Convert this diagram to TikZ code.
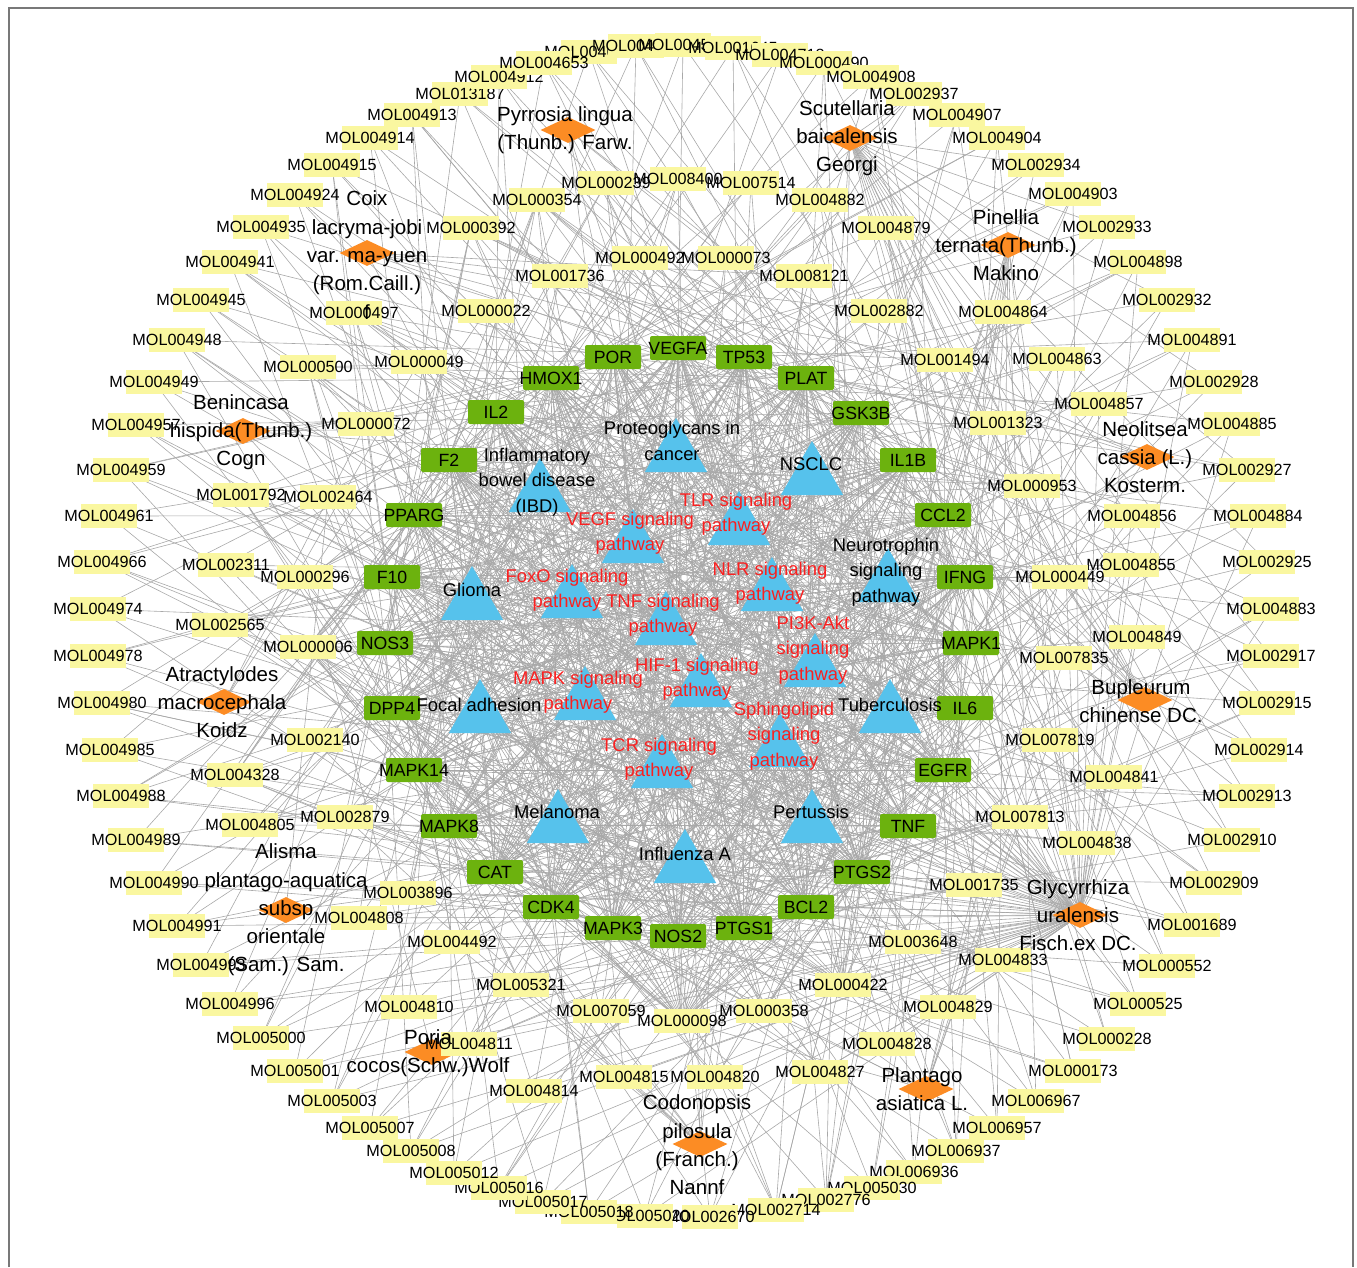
\documentclass[tikz,border=0pt]{standalone}
\usepackage{fontspec}
\setmainfont{Liberation Sans}
\usetikzlibrary{shapes.geometric,backgrounds}
\definecolor{molyellow}{RGB}{250,247,160}
\definecolor{tgreen}{RGB}{108,178,14}
\definecolor{horange}{RGB}{252,140,36}
\definecolor{tblue}{RGB}{86,194,236}
\definecolor{pred}{RGB}{250,32,32}
\definecolor{edgegray}{RGB}{168,168,168}
\definecolor{framegray}{RGB}{120,120,120}
\tikzset{
  edge/.style={draw=edgegray, line width=0.6pt},
  mol/.style={rectangle, fill=molyellow, minimum width=56pt, minimum height=24pt, inner sep=0pt, font=\fontsize{16.2}{19}\selectfont},
  target/.style={rectangle, rounded corners=2pt, fill=tgreen, minimum width=56pt, minimum height=24pt, inner sep=0pt, font=\fontsize{17.7}{20}\selectfont},
  herb/.style={diamond, fill=horange, minimum width=55pt, minimum height=26pt, inner sep=0pt},
  herblabel/.style={align=center, font=\fontsize{20.5}{28.3}\selectfont, inner sep=0pt},
  pathtri/.style={regular polygon, regular polygon sides=3, fill=tblue, minimum size=72pt, inner sep=0pt},
  plab/.style={align=center, font=\fontsize{18.4}{25.5}\selectfont, inner sep=0pt},
  redlab/.style={plab, text=pred},
}
\begin{document}
\begin{tikzpicture}[x=1pt,y=-1pt]
\useasboundingbox (0,0) rectangle (1357,1267);
\draw[framegray, line width=1.5pt] (9,1267) -- (9,8) -- (1353,8) -- (1353,1267);

% pathway triangles
\foreach \x/\y [count=\i] in {676/454,540/494,812/477,472/602,888/584,480/715,890/715,558/825,812/825,685/865,
  633/545,739/527,572/600,666/627,772/593,815/669,701/689,585/702,780/749,662/770}
  {\node[pathtri] (p\i) at (\x,\y) {};}

% targets
\foreach \x/\y/\l [count=\i] in {613/357/POR,678/348/VEGFA,744/357/TP53,806/378/PLAT,861/413/GSK3B,908/460/IL1B,
  943/515/CCL2,965/577/IFNG,971/643/MAPK1,965/708/IL6,943/770/EGFR,908/826/TNF,862/872/PTGS2,806/907/BCL2,
  744/928/PTGS1,678/936/NOS2,613/928/MAPK3,551/907/CDK4,495/872/CAT,449/826/MAPK8,414/770/MAPK14,392/708/DPP4,
  385/643/NOS3,392/577/F10,414/515/PPARG,449/460/F2,496/412/IL2,551/378/HMOX1}
  {\node[target] (t\i) at (\x,\y) {\makebox[0pt]{\l}};}

% herbs
\foreach \x/\y [count=\i] in {568/130,850/138,1008/245,1147/457,1145/700,1080/915,926/1089,700/1144,432/1052,
  286/910,224/702,243/431,367/253}
  {\node[herb] (h\i) at (\x,\y) {};}

% target-pathway edges
\begin{scope}[on background layer]
\foreach \a in {1,...,28}{\foreach \b in {1,...,20}{\draw[edge] (t\a.center) -- (p\b.center);}}
\end{scope}

% compounds
\foreach \x/\y/\l/\h/\k [count=\i] in {
589/52/MOL004609/{5}/3, 636/46/MOL004911/{6}/3, 683/45/MOL004598/{5}/2, 733/48/MOL001645/{5}/3,
780/55/MOL004718/{5}/2, 824/63/MOL000490/{5}/3, 871/77/MOL004908/{6}/3, 914/94/MOL002937/{2}/4,
957/115/MOL004907/{6}/3, 997/138/MOL004904/{6}/4, 1036/165/MOL002934/{2}/3, 1073/194/MOL004903/{6}/4,
1107/227/MOL002933/{2}/3, 1138/262/MOL004898/{6}/4, 1167/300/MOL002932/{2}/3, 1192/340/MOL004891/{6}/4,
1214/382/MOL002928/{2}/3, 1232/424/MOL004885/{6}/3, 1247/470/MOL002927/{2}/4, 1258/516/MOL004884/{6}/3,
1267/562/MOL002925/{2}/3, 1271/609/MOL004883/{6}/4, 1271/656/MOL002917/{2}/3, 1267/703/MOL002915/{2}/4,
1259/750/MOL002914/{2}/3, 1247/796/MOL002913/{2}/4, 1232/840/MOL002910/{2}/3, 1214/883/MOL002909/{2}/3,
1192/925/MOL001689/{2}/4, 1167/966/MOL000552/{2}/3, 1138/1004/MOL000525/{2}/4, 1107/1039/MOL000228/{2}/3,
1073/1071/MOL000173/{2}/4, 1036/1101/MOL006967/{3}/3, 997/1128/MOL006957/{3}/3, 956/1151/MOL006937/{3}/4,
914/1172/MOL006936/{3}/3, 872/1188/MOL005030/{3}/3, 826/1200/MOL002776/{3,2}/4, 776/1210/MOL002714/{3,2}/4,
710/1217/MOL002670/{3}/3, 645/1216/MOL005020/{6}/3, 589/1212/MOL005018/{6}/3, 543/1202/MOL005017/{6}/3,
499/1188/MOL005016/{6}/4, 454/1173/MOL005012/{6}/3, 411/1151/MOL005008/{6}/4, 370/1128/MOL005007/{6}/3,
332/1101/MOL005003/{6}/4, 295/1071/MOL005001/{6}/3, 261/1038/MOL005000/{6}/4, 230/1004/MOL004996/{6}/3,
201/965/MOL004993/{6}/3, 177/926/MOL004991/{6}/4, 154/883/MOL004990/{6}/3, 136/840/MOL004989/{6}/3,
121/796/MOL004988/{6}/4, 110/750/MOL004985/{6}/3, 102/703/MOL004980/{6}/4, 98/656/MOL004978/{6}/3,
98/609/MOL004974/{6}/3, 102/562/MOL004966/{6}/4, 109/516/MOL004961/{6}/3, 121/470/MOL004959/{6}/4,
136/425/MOL004957/{6}/3, 154/382/MOL004949/{6}/3, 177/340/MOL004948/{6}/4, 201/300/MOL004945/{6}/3,
230/262/MOL004941/{6}/4, 261/227/MOL004935/{6}/3, 295/195/MOL004924/{6}/3, 332/165/MOL004915/{6}/4,
370/138/MOL004914/{6}/3, 412/115/MOL004913/{6}/4, 460/94/MOL013187/{5}/3, 499/77/MOL004912/{6}/3,
544/63/MOL004653/{5}/3,
606/183/MOL000239/{6}/6, 678/179/MOL008400/{8}/4, 751/183/MOL007514/{8}/2, 537/200/MOL000354/{6,5}/8,
820/200/MOL004882/{6}/3, 471/228/MOL000392/{6}/8, 886/228/MOL004879/{6}/4, 640/258/MOL000492/{4,1}/5,
726/258/MOL000073/{4,1}/5, 560/276/MOL001736/{4}/4, 804/276/MOL008121/{13,8}/3, 486/311/MOL000022/{11}/3,
879/311/MOL002882/{13}/3, 1003/312/MOL004864/{6}/3, 945/360/MOL001494/{13,12}/3, 1057/359/MOL004863/{6}/4,
1099/404/MOL004857/{6}/3, 998/423/MOL001323/{13,12}/4, 1032/486/MOL000953/{12,13,1}/5, 1132/516/MOL004856/{6}/3,
1131/565/MOL004855/{6}/4, 1060/577/MOL000449/{5,2,3,7}/6, 1137/637/MOL004849/{6}/3, 1064/658/MOL007835/{7}/4,
1050/740/MOL007819/{7}/3, 1114/777/MOL004841/{6}/4, 1020/817/MOL007813/{7}/4, 1087/843/MOL004838/{6}/3,
974/885/MOL001735/{7}/5, 913/942/MOL003648/{6}/4, 1003/960/MOL004833/{6}/3, 948/1007/MOL004829/{6}/4,
887/1044/MOL004828/{6}/3, 843/985/MOL000422/{5,6,7,1}/16, 764/1011/MOL000358/{3,1,4,7,12,13}/6,
682/1021/MOL000098/{5,6,7,1}/28, 601/1011/MOL007059/{8}/4, 521/985/MOL005321/{8}/4, 452/942/MOL004492/{8,4}/4,
624/1077/MOL004815/{6}/3, 715/1077/MOL004820/{6}/3, 820/1072/MOL004827/{6}/4, 534/1091/MOL004814/{6}/3,
469/1044/MOL004811/{6}/4, 408/893/MOL003896/{6,8}/6, 359/918/MOL004808/{6}/4, 409/1007/MOL004810/{6}/3,
241/495/MOL001792/{6}/5, 328/497/MOL002464/{10}/4, 226/565/MOL002311/{6}/4, 305/577/MOL000296/{9}/3,
220/625/MOL002565/{6}/5, 308/647/MOL000006/{8,7}/16, 315/740/MOL002140/{8}/3, 235/775/MOL004328/{6}/8,
250/825/MOL004805/{6}/4, 345/817/MOL002879/{8,2}/4, 354/313/MOL000497/{6}/8, 308/367/MOL000500/{6}/6,
419/362/MOL000049/{11}/4, 366/424/MOL000072/{11}/3}
{
  \node[mol] (m\i) at (\x,\y) {\makebox[0pt]{\l}};
  \begin{scope}[on background layer]
    \foreach \hh in \h {\draw[edge] (m\i.center) -- (h\hh.center);}
    \foreach \j in {1,...,\k}{
      \pgfmathtruncatemacro\tgt{mod(\i*13+\j*9,28)+1}
      \draw[edge] (m\i.center) -- (t\tgt.center);
    }
  \end{scope}
}

% herb labels
\node[herblabel] (hl1) at (565,130) {Pyrrosia lingua\\(Thunb.) Farw.};
\node[herblabel] (hl2) at (847,138) {Scutellaria\\baicalensis\\Georgi};
\node[herblabel] (hl3) at (1006,245) {Pinellia\\ternata(Thunb.)\\Makino};
\node[herblabel] (hl4) at (1145,457) {Neolitsea\\cassia (L.)\\Kosterm.};
\node[herblabel] (hl5) at (1141,701) {Bupleurum\\chinense DC.};
\node[herblabel] (hl6) at (1078,915) {Glycyrrhiza\\uralensis\\Fisch.ex DC.};
\node[herblabel] (hl7) at (922,1089) {Plantago\\asiatica L.};
\node[herblabel] (hl8) at (697,1145) {Codonopsis\\pilosula\\(Franch.)\\Nannf};
\node[herblabel] (hl9) at (428,1053) {Poria\\cocos(Schw.)Wolf};
\node[herblabel] (hl10) at (286,910) {Alisma\\plantago-aquatica\\subsp\\orientale\\(Sam.) Sam.};
\node[herblabel] (hl11) at (222,702) {Atractylodes\\macrocephala\\Koidz};
\node[herblabel] (hl12) at (241,432) {Benincasa\\hispida(Thunb.)\\Cogn};
\node[herblabel] (hl13) at (367,255) {Coix\\lacryma-jobi\\var. ma-yuen\\(Rom.Caill.)\\f};

% pathway labels
\node[plab] (pl1) at (672,441) {Proteoglycans in\\cancer};
\node[plab] (pl2) at (537,482) {Inflammatory\\bowel disease\\(IBD)};
\node[plab] (pl3) at (811,464) {NSCLC};
\node[plab] (pl4) at (472,590) {Glioma};
\node[plab] (pl5) at (886,572) {Neurotrophin\\signaling\\pathway};
\node[plab] (pl6) at (479,705) {Focal adhesion};
\node[plab] (pl7) at (890,705) {Tuberculosis};
\node[plab] (pl8) at (557,812) {Melanoma};
\node[plab] (pl9) at (811,812) {Pertussis};
\node[plab] (pl10) at (685,854) {Influenza A};
\node[redlab] (pl11) at (630,533) {VEGF signaling\\pathway};
\node[redlab] (pl12) at (736,514) {TLR signaling\\pathway};
\node[redlab] (pl13) at (567,590) {FoxO signaling\\pathway};
\node[redlab] (pl14) at (663,615) {TNF signaling\\pathway};
\node[redlab] (pl15) at (770,583) {NLR signaling\\pathway};
\node[redlab] (pl16) at (813,650) {PI3K-Akt\\signaling\\pathway};
\node[redlab] (pl17) at (697,679) {HIF-1 signaling\\pathway};
\node[redlab] (pl18) at (578,692) {MAPK signaling\\pathway};
\node[redlab] (pl19) at (784,736) {Sphingolipid\\signaling\\pathway};
\node[redlab] (pl20) at (659,759) {TCR signaling\\pathway};
\end{tikzpicture}
\end{document}
